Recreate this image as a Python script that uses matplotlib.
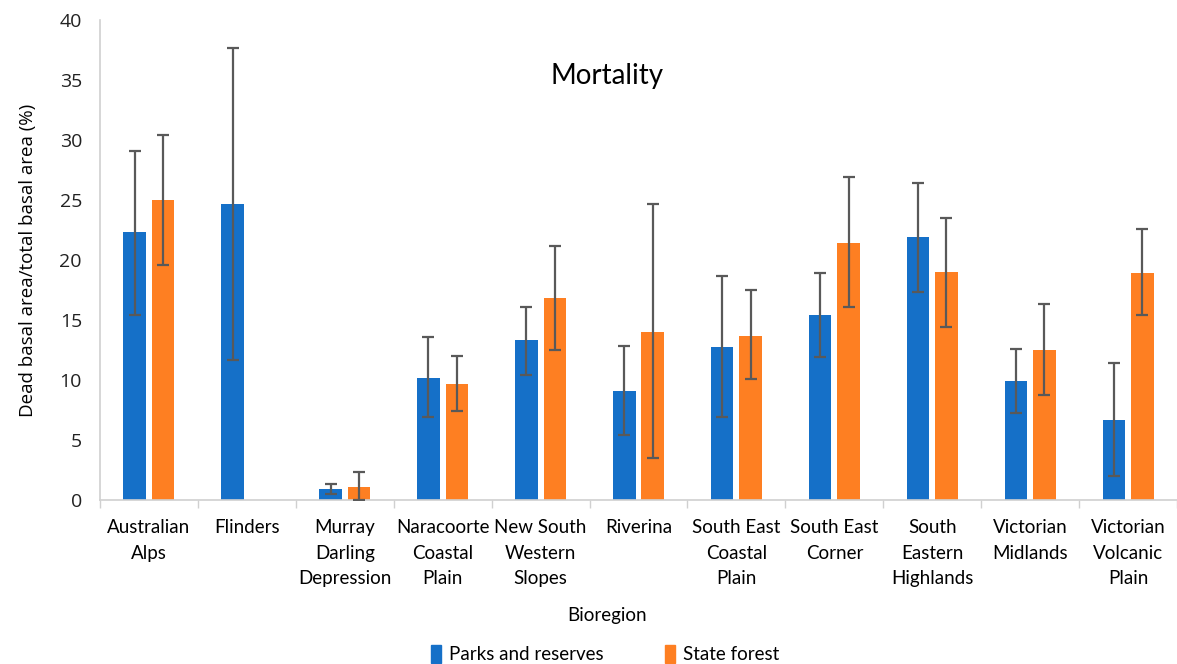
import numpy as np
import matplotlib.pyplot as plt
from matplotlib.patches import Patch

regions = ['Australian\nAlps', 'Flinders', 'Murray\nDarling\nDepression', 'Naracoorte\nCoastal\nPlain',
           'New South\nWestern\nSlopes', 'Riverina', 'South East\nCoastal\nPlain', 'South East\nCorner',
           'South\nEastern\nHighlands', 'Victorian\nMidlands', 'Victorian\nVolcanic\nPlain']

parks = [22.3, 24.7, 0.9, 10.2, 13.3, 9.1, 12.75, 15.4, 21.9, 9.9, 6.7]
parks_lo = [15.4, 11.7, 0.5, 6.9, 10.4, 5.4, 6.9, 11.9, 17.3, 7.25, 2.0]
parks_hi = [29.1, 37.7, 1.3, 13.6, 16.1, 12.8, 18.7, 18.9, 26.4, 12.6, 11.4]

forest = [25.0, np.nan, 1.1, 9.7, 16.8, 14.0, 13.7, 21.4, 19.0, 12.5, 18.9]
forest_lo = [19.6, np.nan, 0.0, 7.4, 12.5, 3.5, 10.1, 16.1, 14.4, 8.75, 15.4]
forest_hi = [30.4, np.nan, 2.3, 12.0, 21.2, 24.7, 17.5, 26.9, 23.5, 16.3, 22.6]

blue = '#1570C8'
orange = '#FE7F22'
errc = '#595959'
axc = '#D0D0D0'
narrow = 'Lato'

fig = plt.figure(figsize=(11.77, 6.64), dpi=100)
ax = fig.add_axes([100 / 1177, 1 - 500 / 664, 1077 / 1177, 480 / 664])

x = np.arange(len(regions))
w = 0.23
off = 0.145


def errs(v, lo, hi):
    v, lo, hi = map(np.asarray, (v, lo, hi))
    return np.vstack([v - lo, hi - v])


ax.bar(x - off, parks, w, color=blue, zorder=2)
ax.bar(x + off, forest, w, color=orange, zorder=2)
ax.errorbar(x - off, parks, yerr=errs(parks, parks_lo, parks_hi), fmt='none',
            ecolor=errc, elinewidth=1.6, capsize=4, capthick=1.6, zorder=3)
fm = ~np.isnan(np.asarray(forest))
ax.errorbar((x + off)[fm], np.asarray(forest)[fm],
            yerr=errs(forest, forest_lo, forest_hi)[:, fm], fmt='none',
            ecolor=errc, elinewidth=1.6, capsize=4, capthick=1.6, zorder=3)

ax.set_xlim(-0.5, -0.5 + 1077 / 98.7)
ax.set_ylim(0, 40)
ax.set_yticks(np.arange(0, 41, 5))
ax.tick_params(axis='y', length=0, pad=13, labelsize=14, labelcolor='#222222')
for t in ax.get_yticklabels():
    t.set_family('Open Sans')

ax.set_xticks(x)
ax.set_xticklabels(regions, family=narrow, fontsize=13.5, linespacing=1.6, va='top')
ax.tick_params(axis='x', which='major', length=0, pad=14)
ax.set_xticks(np.arange(-0.5, len(regions)), minor=True)
ax.tick_params(axis='x', which='minor', length=6, color=axc, width=1)

for s in ['top', 'right']:
    ax.spines[s].set_visible(False)
for s in ['left', 'bottom']:
    ax.spines[s].set_color(axc)
    ax.spines[s].set_linewidth(1.2)

ax.set_ylabel('Dead basal area/total basal area (%)', family='Open Sans', fontsize=13.5, labelpad=16)
fig.text(607 / 1177, 1 - 76 / 664, 'Mortality', ha='center', va='center', family='Lato', fontsize=20)
fig.text(607 / 1177, 1 - 615 / 664, 'Bioregion', ha='center', va='center', family=narrow, fontsize=13.5)

handles = [Patch(color=blue, label='Parks and reserves'), Patch(color=orange, label='State forest')]
fig.legend(handles=handles, loc='center', bbox_to_anchor=(605 / 1177, 1 - 654 / 664), ncol=2,
           frameon=False, prop={'family': narrow, 'size': 13.5}, handlelength=0.55, handleheight=1.1,
           handletextpad=0.4, columnspacing=3.3)

fig.savefig('out.png', dpi=100)
